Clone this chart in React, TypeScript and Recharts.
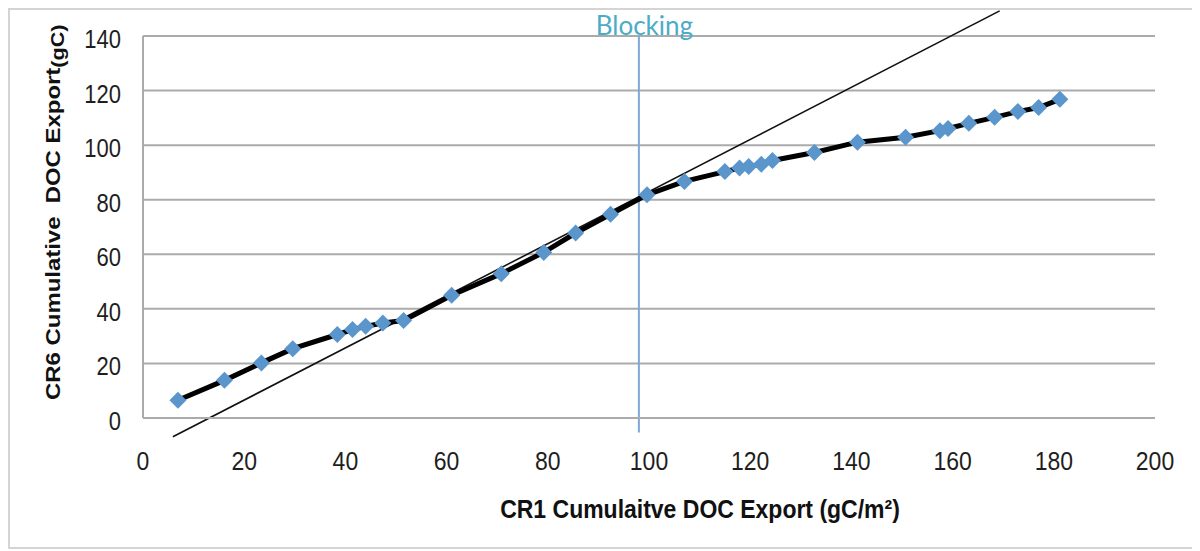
import React from 'react';
import { ScatterChart, Scatter, XAxis, YAxis, CartesianGrid, ReferenceLine } from 'recharts';

// CR1 vs CR6 cumulative DOC export
const cr1Export = [6.9, 16.1, 23.4, 29.6, 38.4, 41.4, 44.0, 47.4, 51.5, 61.0, 70.8, 79.2, 85.5, 92.4, 99.6, 107.0, 115.0, 117.9, 119.7, 122.2, 124.4, 132.7, 141.2, 150.7, 157.5, 159.1, 163.2, 168.3, 172.9, 177.0, 181.2];
const cr6Export = [6.5, 13.8, 20.2, 25.4, 30.6, 32.4, 33.6, 34.8, 35.7, 45.0, 52.9, 60.7, 67.8, 74.7, 81.8, 86.7, 90.3, 91.6, 92.2, 93.0, 94.4, 97.3, 101.1, 102.9, 105.3, 106.1, 108.0, 110.2, 112.3, 113.8, 116.8];

// thin trend line end points
const trendX = [5.9, 169.3];
const trendY = [-6.9, 149.2];

// blocking marker
const blockingX = 98;
const blockingY = [-5.3, 140];
const blockingLabel = 'Blocking';

const xTicks = [0, 20, 40, 60, 80, 100, 120, 140, 160, 180, 200];
const yTicks = [0, 20, 40, 60, 80, 100, 120, 140];

const xTitle = 'CR1 Cumulaitve DOC Export (gC/m\u00b2)';
const yTitle = 'CR6 Cumulative  DOC Export';
const yTitleUnit = '(gC)';

const data = cr1Export.map((x, i) => ({ x, y: cr6Export[i] }));

const FONT = '"Liberation Sans", Arial, sans-serif';
const GRID = '#ababab';

const Diamond = (props: any) => {
  const { cx, cy } = props;
  if (cx == null || cy == null) return null;
  const r = 8.5;
  return (
    <polygon
      points={`${cx},${cy - r} ${cx + r},${cy} ${cx},${cy + r} ${cx - r},${cy}`}
      fill="#5a96cc"
    />
  );
};

const XTick = (props: any) => {
  const { x, y, payload } = props;
  return (
    <g transform={`translate(${x},${y + 52}) scale(1,1.15)`}>
      <text textAnchor="middle" fontFamily={FONT} fontSize={23} fill="#1e1e1e">
        {payload.value}
      </text>
    </g>
  );
};

const YTick = (props: any) => {
  const { x, y, payload } = props;
  return (
    <g transform={`translate(${x - 22},${y + 12}) scale(1,1.15)`}>
      <text textAnchor="end" fontFamily={FONT} fontSize={22} fill="#1e1e1e">
        {payload.value}
      </text>
    </g>
  );
};

export default function App() {
  return (
    <div style={{ width: 1184, height: 537, border: '2px solid #d4d4d4', position: 'relative', background: '#fff' }}>
      <ScatterChart width={1184} height={537} margin={{ top: 26, right: 39, bottom: 88, left: 73 }}>
        <CartesianGrid vertical={false} stroke={GRID} strokeWidth={2} />
        <XAxis
          type="number"
          dataKey="x"
          domain={[0, 200]}
          ticks={xTicks}
          tickLine={false}
          tickSize={0}
          tickMargin={0}
          height={41}
          axisLine={{ stroke: GRID, strokeWidth: 2 }}
          tick={XTick}
          label={{
            content: () => (
              <g transform="translate(690,508) scale(1,1.1)">
                <text textAnchor="middle" fontFamily={FONT} fontWeight="bold" fontSize={23} fill="#111">
                  {xTitle}
                </text>
              </g>
            ),
          }}
        />
        <YAxis
          type="number"
          dataKey="y"
          domain={[0, 140]}
          ticks={yTicks}
          tickLine={false}
          tickSize={0}
          tickMargin={0}
          width={60}
          axisLine={{ stroke: GRID, strokeWidth: 2 }}
          tick={YTick}
          label={{
            content: () => (
              <g transform="translate(50,390) rotate(-90) scale(1.14,1)">
                <text fontFamily={FONT} fontWeight="bold" fontSize={21} fill="#111" style={{ whiteSpace: 'pre' }}>
                  {yTitle}
                  <tspan fontSize={19} dy={4}>{yTitleUnit}</tspan>
                </text>
              </g>
            ),
          }}
        />
        <ReferenceLine
          segment={[{ x: blockingX, y: blockingY[0] }, { x: blockingX, y: blockingY[1] }]}
          stroke="#7fa8d6"
          strokeWidth={2}
          ifOverflow="visible"
          label={(p: any) => {
            const vb = p.viewBox || {};
            return (
              <text
                x={(vb.x ?? 628) + 5.5}
                y={(vb.y ?? 26) - 1}
                textAnchor="middle"
                fontFamily="Lato, 'Open Sans', sans-serif"
                fontSize={26}
                fill="#4bacc6"
              >
                {blockingLabel}
              </text>
            );
          }}
        />
        <ReferenceLine
          segment={[{ x: trendX[0], y: trendY[0] }, { x: trendX[1], y: trendY[1] }]}
          stroke="#111"
          strokeWidth={1.6}
          ifOverflow="visible"
        />
        <Scatter
          data={data}
          line={{ stroke: '#000', strokeWidth: 5 }}
          lineType="joint"
          shape={Diamond}
          isAnimationActive={false}
        />
      </ScatterChart>
    </div>
  );
}
